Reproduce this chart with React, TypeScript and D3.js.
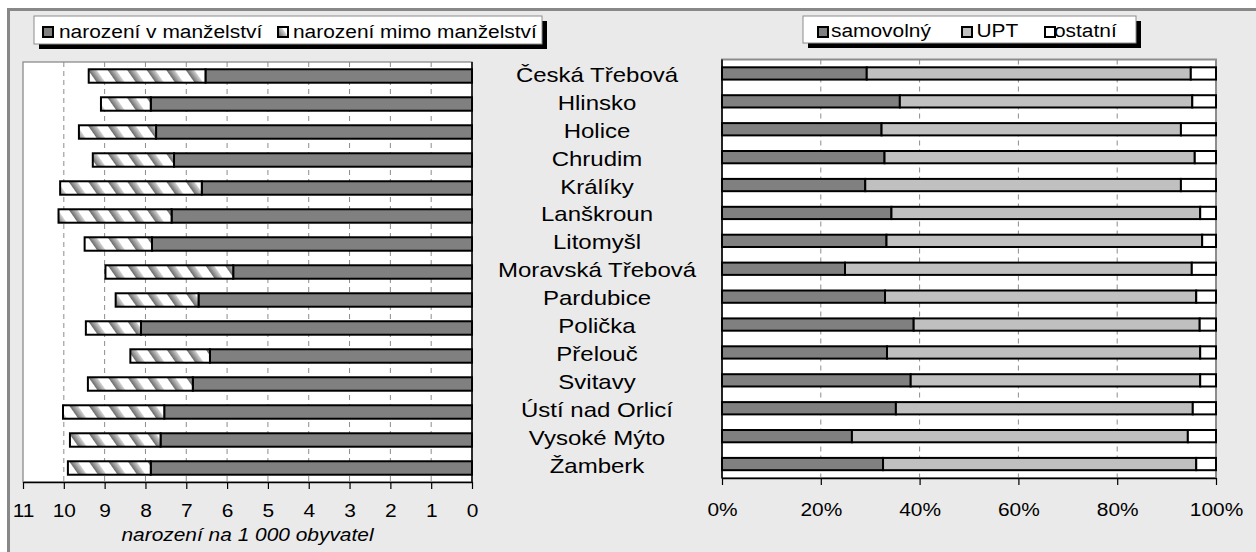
import React, { useEffect, useRef } from 'react';
import * as d3 from 'd3';

// districts (ORP), top to bottom
const categories = [
  'Česká Třebová', 'Hlinsko', 'Holice', 'Chrudim', 'Králíky', 'Lanškroun', 'Litomyšl',
  'Moravská Třebová', 'Pardubice', 'Polička', 'Přelouč', 'Svitavy', 'Ústí nad Orlicí',
  'Vysoké Mýto', 'Žamberk',
];

// live births per 1 000 inhabitants
const bornInMarriage = [6.53, 7.87, 7.74, 7.30, 6.62, 7.36, 7.84, 5.85, 6.70, 8.11, 6.42, 6.84, 7.54, 7.63, 7.87];
const bornOutsideMarriage = [2.86, 1.22, 1.89, 1.99, 3.47, 2.77, 1.65, 3.13, 2.03, 1.35, 1.95, 2.57, 2.48, 2.22, 2.03];

// structure of abortions, %
const spontaneous = [29.3, 36.0, 32.3, 32.9, 29.0, 34.3, 33.3, 24.9, 33.0, 38.8, 33.4, 38.2, 35.2, 26.3, 32.6];
const upt = [65.6, 59.2, 60.6, 62.8, 63.9, 62.5, 63.9, 70.2, 63.0, 57.9, 63.4, 58.6, 60.1, 68.0, 63.4];
const other = [5.1, 4.8, 7.1, 4.3, 7.1, 3.2, 2.8, 4.9, 4.0, 3.3, 3.2, 3.2, 4.7, 5.7, 4.0];

const birthTicks = [0, 1, 2, 3, 4, 5, 6, 7, 8, 9, 10, 11];
const shareTicks = [0, 20, 40, 60, 80, 100];
const birthLegend = ['narození v manželství', 'narození mimo manželství'];
const abortLegend = ['samovolný', 'UPT', 'ostatní'];
const birthTitle = 'narození na 1 000 obyvatel';

const W = 1256;
const H = 552;
const FONT = '"Liberation Sans", Arial, sans-serif';
const FS = 19;
const SX = 1.1; // the original text is a bit wider than plain Arial

const L = { x0: 23, x1: 472, y0: 62, y1: 482 };
const R = { x0: 722, x1: 1216, y0: 59.5, y1: 478 };

const xBirth = d3.scaleLinear().domain([0, 11]).range([L.x1, L.x0]);
const yLeft = d3.scaleBand().domain(categories).range([L.y0, L.y1]).paddingInner(0.52).paddingOuter(0.26);
const xShare = d3.scaleLinear().domain([0, 100]).range([R.x0, R.x1]);
const yRight = d3.scaleBand().domain(categories).range([R.y0, R.y1]).paddingInner(0.56).paddingOuter(0.28);

const stackRows = categories.map((c, i) => ({ c, s: spontaneous[i], u: upt[i], o: other[i] }));
const stacked = d3.stack<any>().keys(['s', 'u', 'o'])(stackRows);
const shareFill: Record<string, string> = { s: '#808080', u: '#c0c0c0', o: '#ffffff' };

function T(props: { x: number; y: number; anchor?: string; italic?: boolean; size?: number; sx?: number; children: any }) {
  return (
    <text
      transform={`translate(${props.x},${props.y}) scale(${props.sx || SX},1)`}
      textAnchor={props.anchor || 'start'}
      fontSize={props.size || FS}
      fontStyle={props.italic ? 'italic' : 'normal'}
      fontFamily={FONT}
      fill="#000"
    >
      {props.children}
    </text>
  );
}

export default function App() {
  const leftAxis = useRef<SVGGElement>(null);
  const rightAxis = useRef<SVGGElement>(null);

  useEffect(() => {
    const la = d3.select(leftAxis.current!);
    la.call(d3.axisBottom(xBirth).tickValues(birthTicks).tickSize(7).tickSizeOuter(0).tickPadding(15).tickFormat(d3.format('d')) as any);
    const ra = d3.select(rightAxis.current!);
    ra.call(d3.axisBottom(xShare).tickValues(shareTicks).tickSize(7).tickSizeOuter(0).tickPadding(18).tickFormat((d: any) => d + '%') as any);
    [la, ra].forEach(g => {
      g.select('.domain').attr('stroke', '#000').attr('stroke-width', 1.5);
      g.selectAll('.tick line').attr('stroke', '#000').attr('stroke-width', 1.2);
      g.selectAll('.tick text')
        .attr('font-size', FS)
        .attr('font-family', FONT)
        .attr('fill', '#000')
        .attr('transform', `scale(${SX},1)`);
    });
  }, []);

  const labelY = (c: string) => ((yLeft(c)! + yLeft.bandwidth() / 2) + (yRight(c)! + yRight.bandwidth() / 2)) / 2;

  return (
    <svg width={W} height={H} style={{ position: 'absolute', left: 0, top: 0, background: '#fff' }}>
      <defs>
        <linearGradient id="stripeGrad" x1="0" x2="1" y1="0" y2="0">
          <stop offset="0" stopColor="#6a6a6a" />
          <stop offset="1" stopColor="#d4d4d4" />
        </linearGradient>
        <pattern id="hatch" patternUnits="userSpaceOnUse" width={16} height={16} patternTransform="rotate(-35)">
          <rect width={16} height={16} fill="#fff" />
          <rect x={0} width={7} height={16} fill="url(#stripeGrad)" />
        </pattern>
      </defs>

      {/* outer frame, cut by the picture edge */}
      <rect x={8.5} y={9.5} width={1300} height={600} fill="#eaeaea" stroke="#888" strokeWidth={3} />

      {/* ---- left: births ---- */}
      <rect x={L.x0} y={L.y0} width={L.x1 - L.x0} height={L.y1 - L.y0} fill="#fff" stroke="#8c8c8c" strokeWidth={1.3} />
      {birthTicks.filter(t => t > 0 && t < 11).map(t => (
        <line key={t} x1={xBirth(t)} x2={xBirth(t)} y1={L.y0} y2={L.y1} stroke="#8c8c8c" strokeWidth={1} strokeDasharray="5,4" />
      ))}
      {categories.map((c, i) => (
        <g key={c}>
          <rect x={xBirth(bornInMarriage[i])} y={yLeft(c)} width={xBirth(0) - xBirth(bornInMarriage[i])}
            height={yLeft.bandwidth()} fill="#808080" stroke="#000" strokeWidth={2} />
          <rect x={xBirth(bornInMarriage[i] + bornOutsideMarriage[i])} y={yLeft(c)}
            width={xBirth(bornInMarriage[i]) - xBirth(bornInMarriage[i] + bornOutsideMarriage[i])}
            height={yLeft.bandwidth()} fill="url(#hatch)" stroke="#000" strokeWidth={2} />
        </g>
      ))}
      <line x1={L.x1} x2={L.x1} y1={L.y0} y2={L.y1} stroke="#000" strokeWidth={1.5} />
      <g ref={leftAxis} transform={`translate(0,${L.y1})`} />
      <T x={(L.x0 + L.x1) / 2} y={541} anchor="middle" italic>{birthTitle}</T>

      {/* ---- right: abortions ---- */}
      <rect x={R.x0} y={R.y0} width={R.x1 - R.x0} height={R.y1 - R.y0} fill="#fff" stroke="#8c8c8c" strokeWidth={2} />
      {shareTicks.filter(t => t > 0 && t < 100).map(t => (
        <line key={t} x1={xShare(t)} x2={xShare(t)} y1={R.y0} y2={R.y1} stroke="#8c8c8c" strokeWidth={1} strokeDasharray="5,4" />
      ))}
      {stacked.map(layer => (
        <g key={layer.key} fill={shareFill[layer.key]}>
          {layer.map((d, i) => (
            <rect key={i} x={xShare(d[0])} y={yRight(categories[i])} width={xShare(d[1]) - xShare(d[0])}
              height={yRight.bandwidth()} stroke="#000" strokeWidth={2} />
          ))}
        </g>
      ))}
      <line x1={R.x0} x2={R.x0} y1={R.y0} y2={R.y1} stroke="#000" strokeWidth={1.5} />
      <g ref={rightAxis} transform={`translate(0,${R.y1})`} />

      {/* category names between the panels */}
      {categories.map(c => (
        <T key={c} x={(L.x1 + R.x0) / 2} y={labelY(c) + 7} anchor="middle" size={20} sx={1.2}>{c}</T>
      ))}

      {/* legend: births */}
      <rect x={39} y={21} width={508} height={28} fill="#000" />
      <rect x={34} y={16} width={508} height={28} fill="#fff" stroke="#8c8c8c" strokeWidth={1} />
      <rect x={43} y={27} width={10} height={10} fill="#808080" stroke="#000" strokeWidth={2} />
      <T x={59} y={37.5}>{birthLegend[0]}</T>
      <rect x={278} y={27} width={10} height={10} fill="url(#hatch)" stroke="#000" strokeWidth={2} />
      <T x={293} y={37.5}>{birthLegend[1]}</T>

      {/* legend: abortions */}
      <rect x={808} y={21} width={333} height={27} fill="#000" />
      <rect x={803} y={16} width={333} height={27} fill="#fff" stroke="#8c8c8c" strokeWidth={1} />
      {abortLegend.map((name, i) => {
        const mx = [818, 962, 1045][i];
        const tx = [831, 976.5, 1054][i];
        return (
          <g key={name}>
            <rect x={mx} y={27} width={10} height={10} fill={shareFill[['s', 'u', 'o'][i]]} stroke="#000" strokeWidth={2} />
            <T x={tx} y={37}>{name}</T>
          </g>
        );
      })}
    </svg>
  );
}
